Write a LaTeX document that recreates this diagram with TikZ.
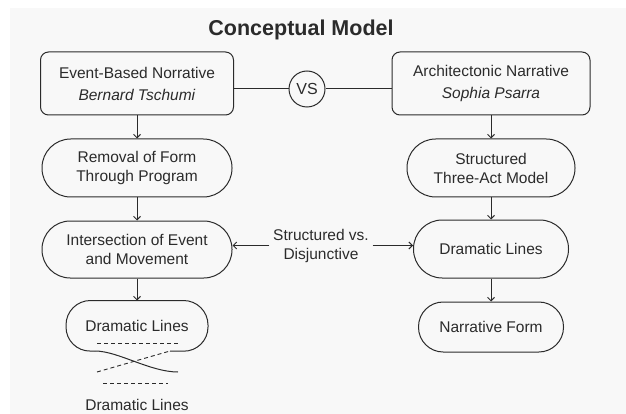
\documentclass[tikz,border=0pt]{standalone}
\usepackage{fontspec}
\setmainfont{Liberation Sans}
\usetikzlibrary{arrows.meta}
\definecolor{ink}{HTML}{2B2B2B}
\definecolor{paper}{HTML}{F8F8F8}
\newcommand*{\colL}{137}
\newcommand*{\colR}{491}
\tikzset{
	headbox/.style n args={2}{
		rectangle,
		rounded corners = 8pt,
		draw = ink,
		minimum width = #1,
		minimum height = #2,
		align = center,
		inner sep = 0pt,
		},
	stadium/.style n args={2}{
		rectangle,
		rounded corners = #2/2-0.3pt,
		draw = ink,
		minimum width = #1,
		minimum height = #2,
		align = center,
		inner sep = 0pt,
		},
	vsring/.style={
		circle,
		draw = ink,
		minimum size = 36pt,
		inner sep = 0pt,
		font = \fontsize{16}{19}\selectfont,
		},
	flow/.style={-{Straight Barb[length=3.5pt,width=7pt]}},
	dashline/.style={line width=0.9pt, dash pattern=on 4pt off 3pt}
	}

\begin{document}
\begin{tikzpicture}[x=1pt, y=-1pt, line width=1pt, color=ink, font=\fontsize{15.5}{19}\selectfont]
	\fill [paper] (10,8) rectangle (626,414);
	\useasboundingbox (0,0) rectangle (626,414);
	\node (title) at (301,30) {\fontsize{21.5}{24}\selectfont\bfseries Conceptual Model};
	% top row
	\node (tschumi) [headbox={193pt}{63pt}] at (\colL,83.5) {Event-Based Norrative\\[3pt]\textit{Bernard Tschumi}};
	\node (psarra)  [headbox={198pt}{63pt}] at (\colR,83.5) {Architectonic Narrative\\[3pt]\textit{Sophia Psarra}};
	\node (vs) [vsring] at (307,89) {VS};
	\draw (vs.west) -- (vs.west -| tschumi.east);
	\draw (vs.east) -- (vs.east -| psarra.west);
	% columns
	\node (removal)   [stadium={190pt}{58pt}] at (\colL,168)   {Removal of Form\\Through Program};
	\node (threeact)  [stadium={168pt}{58pt}] at (\colR,168)   {Structured\\Three-Act Model};
	\node (intersect) [stadium={190pt}{57pt}] at (\colL,249.5) {Intersection of Event\\and Movement};
	\node (dramR)     [stadium={155pt}{58pt}] at (\colR,249)   {Dramatic Lines};
	\node (dramL)     [stadium={141pt}{50pt}, draw=none] at (\colL,326) {Dramatic Lines};
	\node (form)      [stadium={145pt}{50pt}] at (\colR,327)   {Narrative Form};
	\node (versus) [align=center] at (321,245.5) {Structured vs.\\Disjunctive};
	\foreach \a/\b in {tschumi/removal, removal/intersect, intersect/dramL, psarra/threeact, threeact/dramR, dramR/form}
		\draw [flow] (\a) -- (\b);
	\draw [flow] (versus.west) -- (versus.west -| intersect.east);
	\draw [flow] (versus.east) -- (versus.east -| dramR.west);
	% open outline of the left dramatic lines
	\draw [rounded corners=24.5pt] (170,351) -- (dramL.south east) -- (dramL.north east) -- (dramL.north west) -- (dramL.south west) -- (95,351);
	\draw (95,351) .. controls (118,351) and (150,372) .. (178,372);
	\draw [dashline] (97,343) -- (178,343);
	\draw [dashline] (97,372) -- (170,351);
	\draw [dashline] (103,383) -- (168,383);
	\node (dramlabel) at (\colL,405) {Dramatic Lines};
\end{tikzpicture}
\end{document}
